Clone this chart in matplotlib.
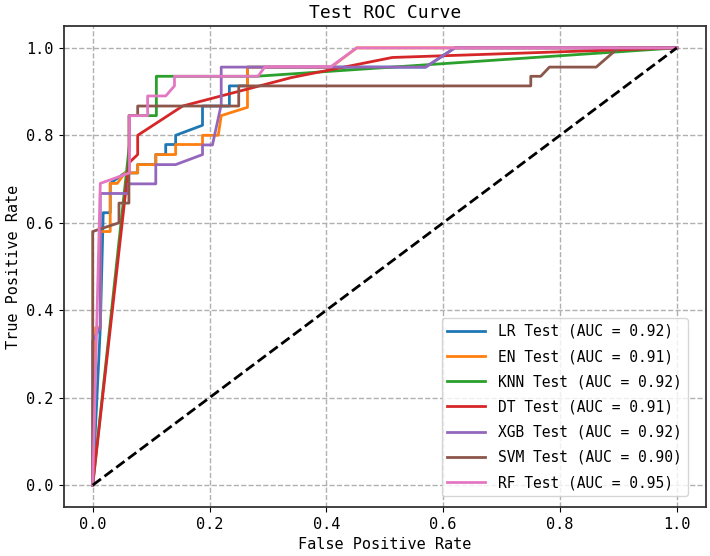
import matplotlib
matplotlib.use("Agg")
import matplotlib.pyplot as plt

plt.rcParams['font.family'] = ['DejaVu Sans Mono']

# ROC points (fpr, tpr)
lr_fpr = [0, 0.013, 0.018, 0.03, 0.03, 0.055, 0.077, 0.077, 0.108, 0.108, 0.125, 0.125, 0.142, 0.142, 0.188, 0.188, 0.234, 0.234, 0.265, 0.265, 0.57, 0.62, 1]
lr_tpr = [0, 0.36, 0.623, 0.623, 0.69, 0.714, 0.714, 0.733, 0.733, 0.756, 0.756, 0.779, 0.779, 0.80, 0.823, 0.867, 0.867, 0.913, 0.913, 0.956, 0.956, 1, 1]

en_fpr = [0, 0.005, 0.013, 0.013, 0.03, 0.03, 0.042, 0.055, 0.077, 0.077, 0.108, 0.108, 0.142, 0.142, 0.188, 0.188, 0.215, 0.22, 0.265, 0.265, 0.408, 0.452, 1]
en_tpr = [0, 0.36, 0.36, 0.58, 0.58, 0.69, 0.69, 0.714, 0.714, 0.733, 0.733, 0.756, 0.756, 0.779, 0.779, 0.80, 0.80, 0.845, 0.864, 0.956, 0.956, 1, 1]

knn_fpr = [0, 0.063, 0.063, 0.109, 0.109, 0.28, 1]
knn_tpr = [0, 0.78, 0.845, 0.845, 0.935, 0.935, 1]

dt_fpr = [0, 0.062, 0.077, 0.077, 0.154, 0.34, 0.513, 1]
dt_tpr = [0, 0.737, 0.756, 0.80, 0.867, 0.932, 0.978, 1]

xgb_fpr = [0, 0, 0.013, 0.013, 0.061, 0.061, 0.108, 0.108, 0.142, 0.188, 0.188, 0.205, 0.22, 0.22, 0.57, 0.62, 1]
xgb_tpr = [0, 0.33, 0.36, 0.667, 0.667, 0.689, 0.689, 0.733, 0.733, 0.756, 0.778, 0.778, 0.87, 0.956, 0.956, 1, 1]

svm_fpr = [0, 0, 0.045, 0.045, 0.062, 0.062, 0.077, 0.077, 0.25, 0.25, 0.75, 0.75, 0.767, 0.782, 0.862, 0.90, 1]
svm_tpr = [0, 0.58, 0.60, 0.645, 0.645, 0.845, 0.845, 0.867, 0.867, 0.913, 0.913, 0.935, 0.935, 0.956, 0.956, 1, 1]

rf_fpr = [0, 0.013, 0.063, 0.063, 0.094, 0.094, 0.125, 0.14, 0.14, 0.283, 0.295, 0.408, 0.452, 1]
rf_tpr = [0, 0.69, 0.714, 0.845, 0.845, 0.89, 0.89, 0.913, 0.935, 0.935, 0.957, 0.957, 1, 1]

names = ['LR', 'EN', 'KNN', 'DT', 'XGB', 'SVM', 'RF']
aucs = [0.92, 0.91, 0.92, 0.91, 0.92, 0.90, 0.95]
curves = [(lr_fpr, lr_tpr), (en_fpr, en_tpr), (knn_fpr, knn_tpr), (dt_fpr, dt_tpr),
          (xgb_fpr, xgb_tpr), (svm_fpr, svm_tpr), (rf_fpr, rf_tpr)]

fig = plt.figure(figsize=(7.1, 5.56), dpi=100)
ax = fig.add_axes([63.5 / 710, 1 - 507 / 556, (706 - 63.5) / 710, (507 - 26) / 556])

for name, auc, (f, t) in zip(names, aucs, curves):
    ax.plot(f, t, lw=2, label=f'{name} Test (AUC = {auc:.2f})')
ax.plot([0, 1], [0, 1], 'k--', lw=2)

ax.grid(True, ls='--', lw=1, color='#b0b0b0')
for s in ax.spines.values():
    s.set_linewidth(1.3)
    s.set_color('#333333')
ax.tick_params(labelsize=11)
ax.set_xlabel('False Positive Rate', fontsize=11)
ax.set_ylabel('True Positive Rate', fontsize=11)
ax.set_title('Test ROC Curve', fontsize=13)
ax.legend(loc='lower right', bbox_to_anchor=(0.972, 0.023), borderaxespad=0,
          fontsize=10.5, labelspacing=0.7, handlelength=2.6, handletextpad=0.9)

fig.savefig('out.png', dpi=100)
